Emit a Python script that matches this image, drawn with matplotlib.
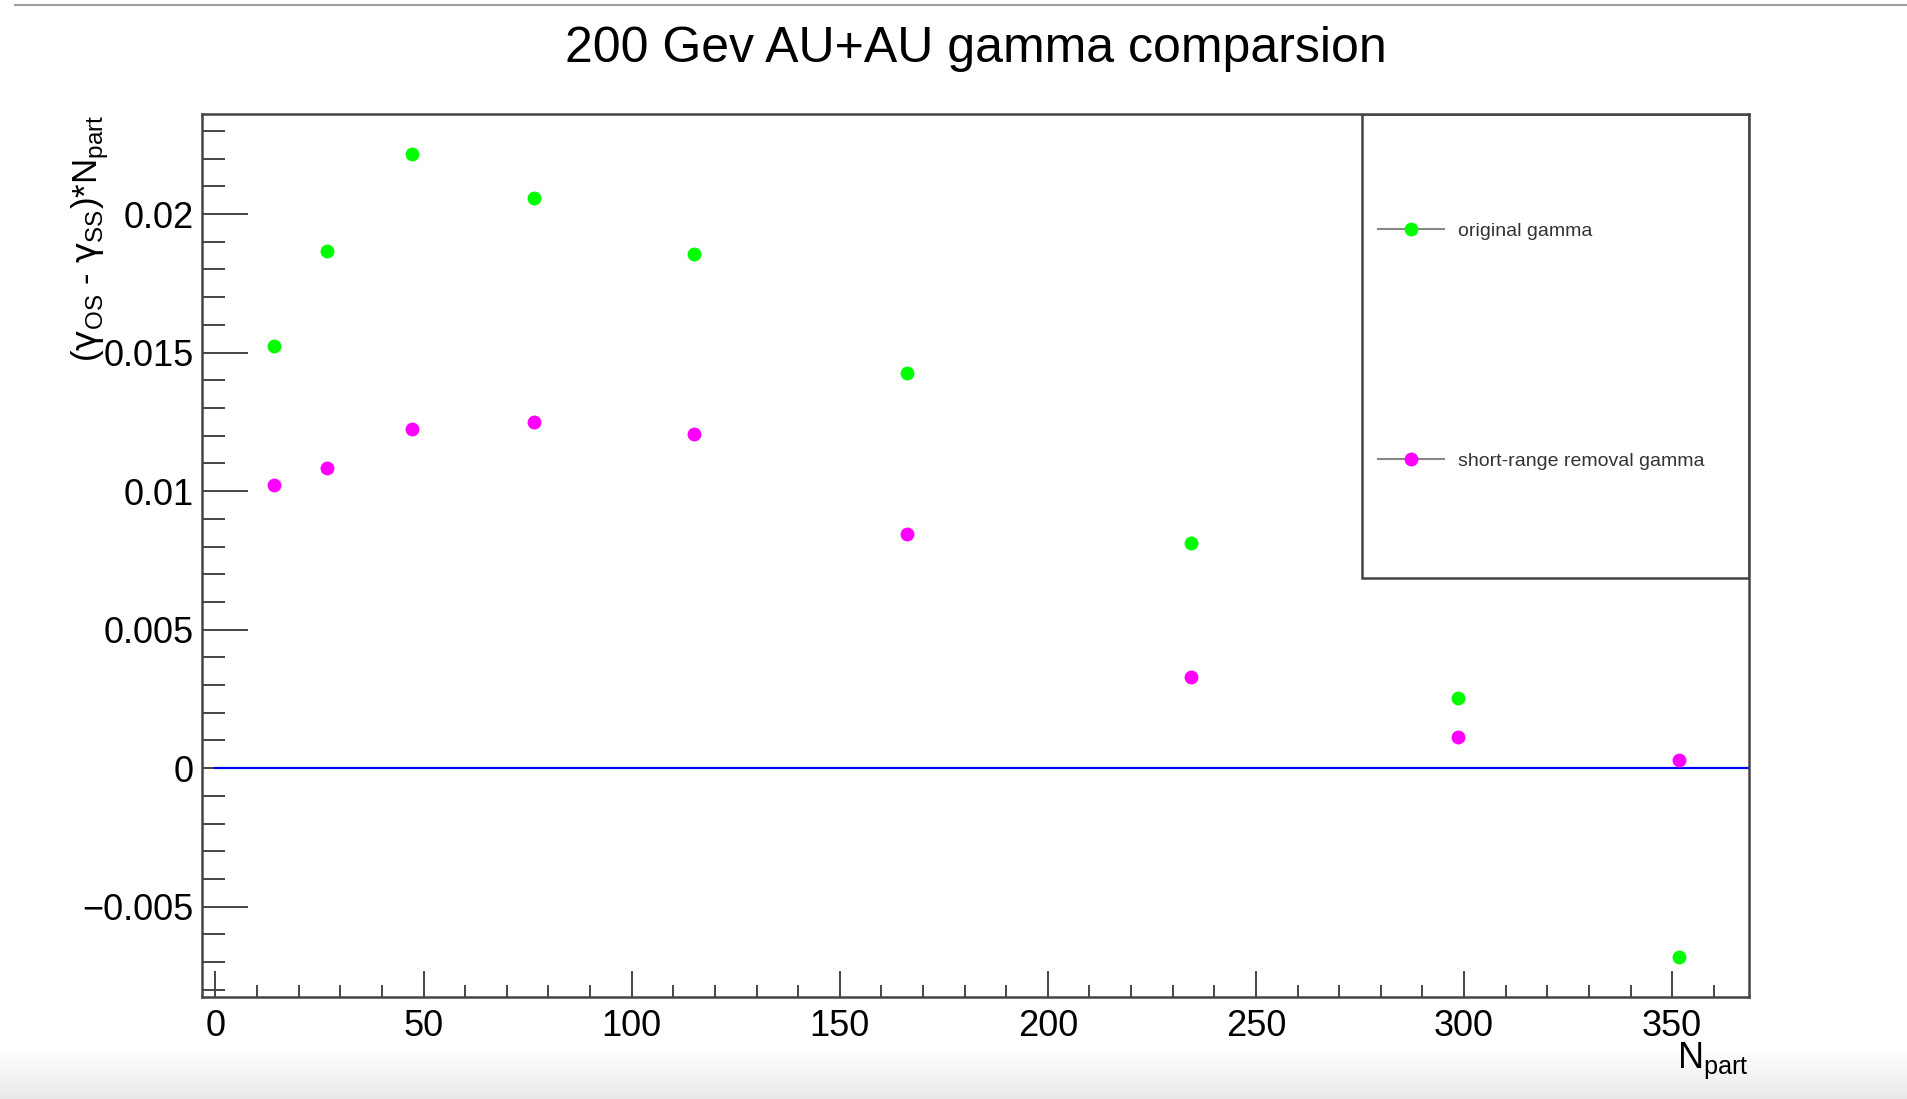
import numpy as np
import matplotlib
matplotlib.use("Agg")
import matplotlib.pyplot as plt
from matplotlib.lines import Line2D
from matplotlib.patches import Rectangle
from matplotlib.ticker import MultipleLocator, FuncFormatter

plt.rcParams['font.family'] = ['Liberation Sans', 'DejaVu Sans']
plt.rcParams['mathtext.fontset'] = 'custom'
plt.rcParams['mathtext.rm'] = 'Liberation Sans'
plt.rcParams['mathtext.it'] = 'DejaVu Sans'

# N_part for each centrality bin
npart = [14.0, 26.9, 47.3, 76.5, 115.1, 166.2, 234.3, 298.6, 351.6]
# (gamma_OS - gamma_SS) * N_part
orig_gamma = [0.01522, 0.01868, 0.02215, 0.02057, 0.01855, 0.01425, 0.00811, 0.00254, -0.0068]
short_removed = [0.01022, 0.01083, 0.01224, 0.01250, 0.01206, 0.00846, 0.00329, 0.00114, 0.00031]

title = "200 Gev AU+AU gamma comparsion"
labels = ["original gamma", "short-range removal gamma"]

frame_col = '#444444'

fig = plt.figure(figsize=(19.07, 10.99), dpi=100)
ax = fig.add_axes([0.106, 0.093, 0.811, 0.803])

# zero reference line
ax.plot([0, 368.4], [0, 0], color='#0000ff', lw=1.6, zorder=2)

ax.plot(npart, orig_gamma, 'o', color='#00ff00', ms=10, mec='none', zorder=3)
ax.plot(npart, short_removed, 'o', color='#ff00ff', ms=10, mec='none', zorder=3)

ax.set_xlim(-3.2, 368.4)
ax.set_ylim(-0.00825, 0.0236)

# ROOT style ticks: inside, left and bottom only
ax.xaxis.set_major_locator(MultipleLocator(50))
ax.xaxis.set_minor_locator(MultipleLocator(10))
ax.yaxis.set_major_locator(MultipleLocator(0.005))
ax.yaxis.set_minor_locator(MultipleLocator(0.001))
ax.yaxis.set_major_formatter(FuncFormatter(lambda v, p: '0' if abs(v) < 1e-12 else ('%g' % v).replace('-', '\u2212')))

ax.tick_params(axis='both', which='both', direction='in', colors=frame_col,
               labelcolor='black', width=1.4, top=False, right=False)
ax.tick_params(axis='y', which='major', length=33, pad=6, labelsize=26)
ax.tick_params(axis='y', which='minor', length=16.5)
ax.tick_params(axis='x', which='major', length=19, pad=9, labelsize=26)
ax.tick_params(axis='x', which='minor', length=9)

for sp in ax.spines.values():
    sp.set_color(frame_col)
    sp.set_linewidth(1.8)

ax.set_title(title, fontsize=36, pad=38)

ax.text(-0.072, 1.0, r'($γ_{\mathrm{OS}}$ - $γ_{\mathrm{SS}}$)*N$_{\mathrm{part}}$', transform=ax.transAxes,
        rotation=90, ha='center', va='top', fontsize=25)
ax.text(1.0, -0.05, r'N$_{\mathrm{part}}$', transform=ax.transAxes, ha='right', va='top', fontsize=26)

# legend box like a TLegend
ax.add_patch(Rectangle((0.75, 0.475), 0.25, 0.525, transform=ax.transAxes, fill=False,
                       edgecolor=frame_col, lw=1.8, zorder=4))
h1 = Line2D([], [], color='#888888', lw=1.5, marker='o', ms=10, mfc='#00ff00', mec='none')
h2 = Line2D([], [], color='#888888', lw=1.5, marker='o', ms=10, mfc='#ff00ff', mec='none')
ax.legend([h1, h2], labels, loc='center left', bbox_to_anchor=(0.760, 0.7375),
          frameon=False, fontsize=14, handlelength=3.4, handletextpad=0.75,
          labelspacing=10.9, borderpad=0, borderaxespad=0, labelcolor='#333333')

# screenshot edge details
fig.add_artist(Line2D([0.008, 1.0], [0.9955, 0.9955], transform=fig.transFigure,
                      color='#a0a0a0', lw=1.5))
grad = np.linspace(0, 1, 50).reshape(-1, 1)
bax = fig.add_axes([0.0, 0.0, 1.0, 0.045], zorder=-1)
bax.imshow(grad, aspect='auto', cmap=matplotlib.colors.LinearSegmentedColormap.from_list(
    'g', ['#e9e9e9', '#ffffff']), origin='lower', extent=[0, 1, 0, 1])
bax.axis('off')

fig.savefig('out.png', dpi=100)
